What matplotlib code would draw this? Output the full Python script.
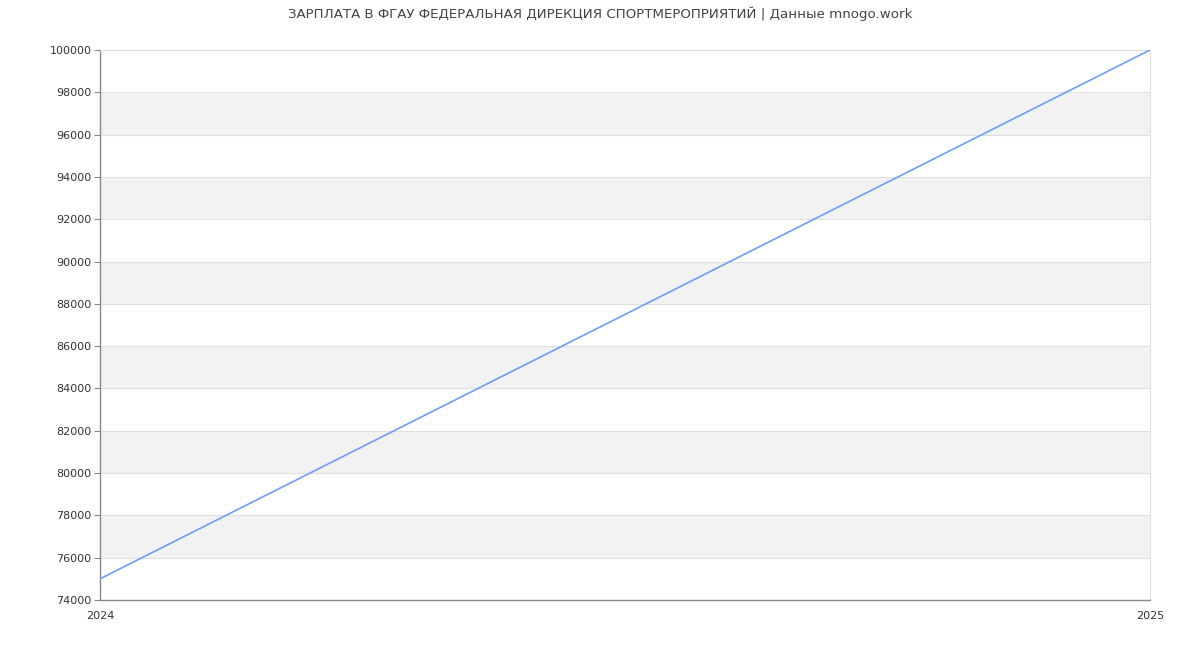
import matplotlib
matplotlib.use("Agg")
import matplotlib.pyplot as plt

title = "ЗАРПЛАТА В ФГАУ ФЕДЕРАЛЬНАЯ ДИРЕКЦИЯ СПОРТМЕРОПРИЯТИЙ | Данные mnogo.work"
years = [2024, 2025]
salary = [75000, 100000]
y_min, y_max, y_step = 74000, 100000, 2000

fig = plt.figure(figsize=(12, 6.5), dpi=100)
ax = fig.add_axes([100 / 1200, 50 / 650, 1050 / 1200, 550 / 650])

# alternating bands
y_ticks = list(range(y_min, y_max + 1, y_step))
for i in range(len(y_ticks) - 1):
    if i % 2 == 1:
        ax.axhspan(y_ticks[i], y_ticks[i + 1], color="#f2f2f2", zorder=0, lw=0)
for t in y_ticks[1:]:
    ax.axhline(t, color="#e0e0e0", lw=0.8, zorder=1)

ax.plot(years, salary, color="#6d9ef5", lw=1.2, zorder=3)

ax.set_xlim(years[0], years[-1])
ax.set_ylim(y_min, y_max)
ax.set_yticks(y_ticks)
ax.set_yticklabels([str(t) for t in y_ticks])
ax.set_xticks(years)
ax.set_xticklabels([str(y) for y in years])

ax.tick_params(axis="y", labelsize=8, colors="#333333", length=4, width=0.8, pad=2)
ax.tick_params(axis="y", color="#888888")
ax.tick_params(axis="x", labelsize=8, colors="#333333", length=0, pad=8)

for s in ["left", "bottom"]:
    ax.spines[s].set_color("#888888")
    ax.spines[s].set_linewidth(1)
for s in ["right", "top"]:
    ax.spines[s].set_color("#e0e0e0")
    ax.spines[s].set_linewidth(0.8)

fig.text(0.5, 1 - 14 / 650, title, ha="center", va="center", fontsize=9.6, color="#444444")

fig.savefig("out.png", dpi=100)
